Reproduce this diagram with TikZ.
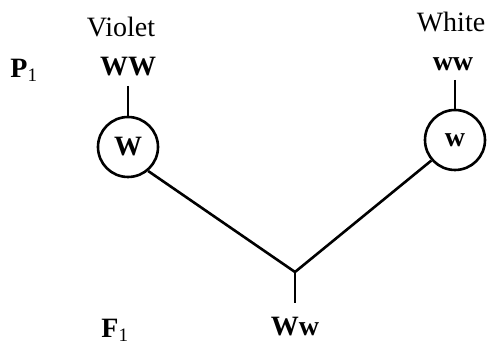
\documentclass[tikz,border=0pt]{standalone}
\usepackage{fontspec}
\setmainfont{Liberation Serif}
\begin{document}
\begin{tikzpicture}[x=1pt,y=-1pt,
  lbl/.style={anchor=base,inner sep=0pt,font=\fontsize{28}{31}\selectfont},
  blbl/.style={lbl,font=\fontsize{28}{31}\selectfont\bfseries},
  gam/.style={circle,draw,line width=2.6pt,minimum size=60pt,inner sep=0pt,font=\fontsize{28}{31}\selectfont\bfseries},
  conn/.style={line width=2.6pt}]
\useasboundingbox (0,0) rectangle (488,347);
\fill[white] (0,0) rectangle (488,347);
% left parent
\node[lbl] (violet) at (121,37) {Violet};
\node[blbl] (WW) at (128,76) {WW};
\node[blbl] (P1) at (24,78) {P\textsubscript{\fontsize{19}{21}\selectfont\mdseries 1}};
\coordinate (topW) at (128,86);
\node[gam] (cW) at (128,147) {W};
% right parent
\node[lbl] (white) at (451,32) {White};
\node[blbl] (ww) at (453,71) {ww};
\coordinate (topw) at (455,80);
\node[gam] (cw) at (455,140) {w};
% offspring
\coordinate (j) at (295,272);
\coordinate (b) at (295,303);
\node[blbl] (Ww) at (295,336) {Ww};
\node[blbl] (F1) at (115,338) {F\textsubscript{\fontsize{19}{21}\selectfont\mdseries 1}};
% connectors
\draw[conn] (topW) -- (cW);
\draw[conn] (topw) -- (cw);
\draw[conn] (cW.-50) -- (j);
\draw[conn] (cw.-139) -- (j);
\draw[conn] (j) -- (b);
\end{tikzpicture}
\end{document}
